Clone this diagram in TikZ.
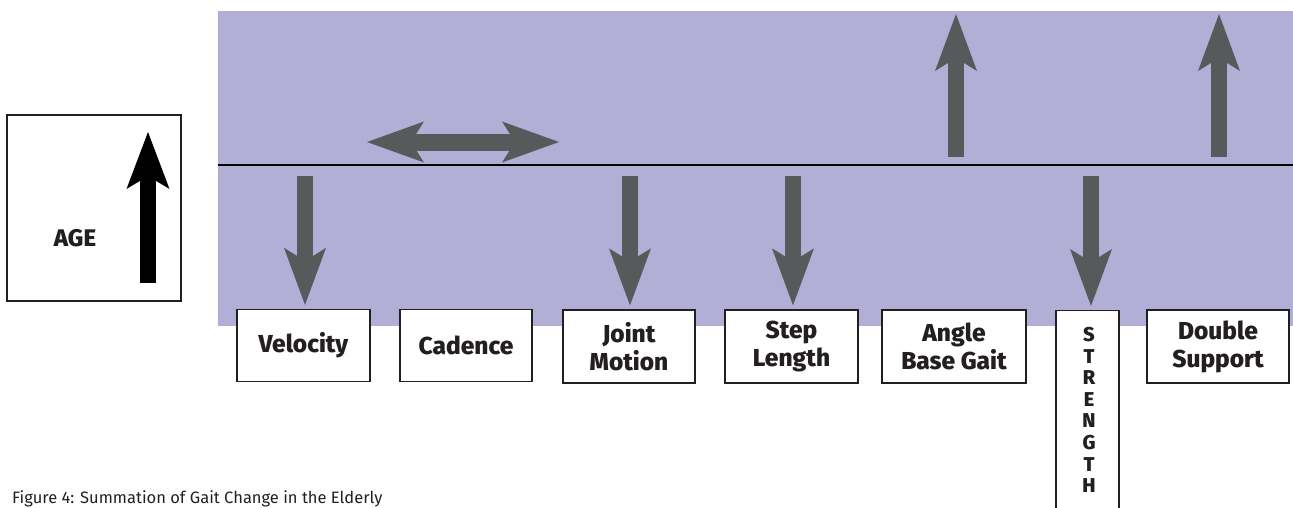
\documentclass[tikz,border=0pt]{standalone}
\usepackage{fontspec}
\setmainfont{Fira Sans}
\newfontfamily\heavy{Fira Sans}[UprightFont={* ExtraBold}]
\usetikzlibrary{arrows.meta}
\definecolor{band}{HTML}{B1AFD6}
\definecolor{arrowgray}{HTML}{58595B}
\definecolor{boxline}{HTML}{231F20}

\begin{document}
\begin{tikzpicture}[x=1pt,y=-1pt,
  labelbox/.style={draw=boxline, line width=1.3pt, fill=white, minimum height=72pt,
    inner sep=0pt, align=center, text=boxline,
    font=\heavy\fontsize{24.5}{28}\selectfont},
  trendarrow/.style={line width=16pt, draw=arrowgray,
    -{Stealth[length=57pt,width=42pt,inset=13pt,line width=0pt]}},
  bothways/.style={line width=17pt, draw=arrowgray,
    {Stealth[length=57pt,width=41pt,inset=13pt,line width=0pt]}-{Stealth[length=57pt,width=41pt,inset=13pt,line width=0pt]}},
  agearrow/.style={line width=16pt, draw=black,
    -{Stealth[length=57pt,width=43pt,inset=13pt,line width=0pt]}}
]
\useasboundingbox (0,0) rectangle (1293,507);
\clip (0,0) rectangle (1293,507);

% shaded band with the dividing line
\fill[band] (218,11) rectangle (1293,326);
\draw[line width=1.2pt, black] (218,165) -- (1293,165);

% age panel
\node[draw=boxline, line width=1.2pt, minimum width=174pt, minimum height=186pt,
      inner sep=0pt] (agepanel) at (94,208) {};
\node[font=\heavy\fontsize{24}{26}\selectfont, text=boxline, inner sep=0pt] (agelabel) at (75,238.5) {AGE};
\coordinate (ageFoot) at (148,283);
\coordinate (ageTip) at (148,132);
\draw[agearrow] (ageFoot) -- (ageTip);

% gait parameter boxes
\node[labelbox, minimum width=133pt] (velocity) at (303.5,345.5) {Velocity};
\node[labelbox, minimum width=132pt] (cadence) at (466,345.5) {Cadence};
\node[labelbox, minimum width=132pt, minimum height=73pt] (joint) at (629,346.5) {Joint\\Motion};
\node[labelbox, minimum width=133pt, minimum height=73pt] (step) at (791.5,346.5) {Step\\Length};
\node[labelbox, minimum width=144pt, minimum height=73pt] (angle) at (954,346.5) {Angle\\Base Gait};
\node[labelbox, minimum width=142pt, minimum height=73pt] (double) at (1218,346.5) {Double\\Support};
\node[labelbox, minimum width=63pt, minimum height=210pt, anchor=north] (strength) at (1087.5,310) {};
\node[anchor=north, align=center, inner sep=0pt, text=boxline,
      font=\heavy\fontsize{20}{21.6}\selectfont] (strengthtext) at (1089,327)
      {S\\T\\R\\E\\N\\G\\T\\H};

% decreasing parameters
\coordinate (velStart) at (305,176);
\coordinate (jointStart) at (630,176);
\coordinate (stepStart) at (793,176);
\coordinate (strStart) at (1091,176);
\draw[trendarrow, shorten >=4pt] (velStart) -- (velStart |- velocity.north);
\draw[trendarrow, shorten >=4pt] (jointStart) -- (jointStart |- joint.north);
\draw[trendarrow, shorten >=4pt] (stepStart) -- (stepStart |- step.north);
\draw[trendarrow, shorten >=4pt] (strStart) -- (strStart |- strength.north);

% unchanged parameter
\coordinate (cadLeft) at (367,142);
\coordinate (cadRight) at (559,142);
\draw[bothways] (cadLeft) -- (cadRight);

% increasing parameters
\coordinate (angleFoot) at (956,157);
\coordinate (angleTip) at (956,14);
\coordinate (doubleFoot) at (1219,157);
\coordinate (doubleTip) at (1219,14);
\draw[trendarrow] (angleFoot) -- (angleTip);
\draw[trendarrow] (doubleFoot) -- (doubleTip);

% caption
\node[anchor=base west, inner sep=0pt, text=boxline, font=\fontsize{16.5}{19}\selectfont]
  (caption) at (12,503) {Figure 4: Summation of Gait Change in the Elderly};
\end{tikzpicture}
\end{document}
